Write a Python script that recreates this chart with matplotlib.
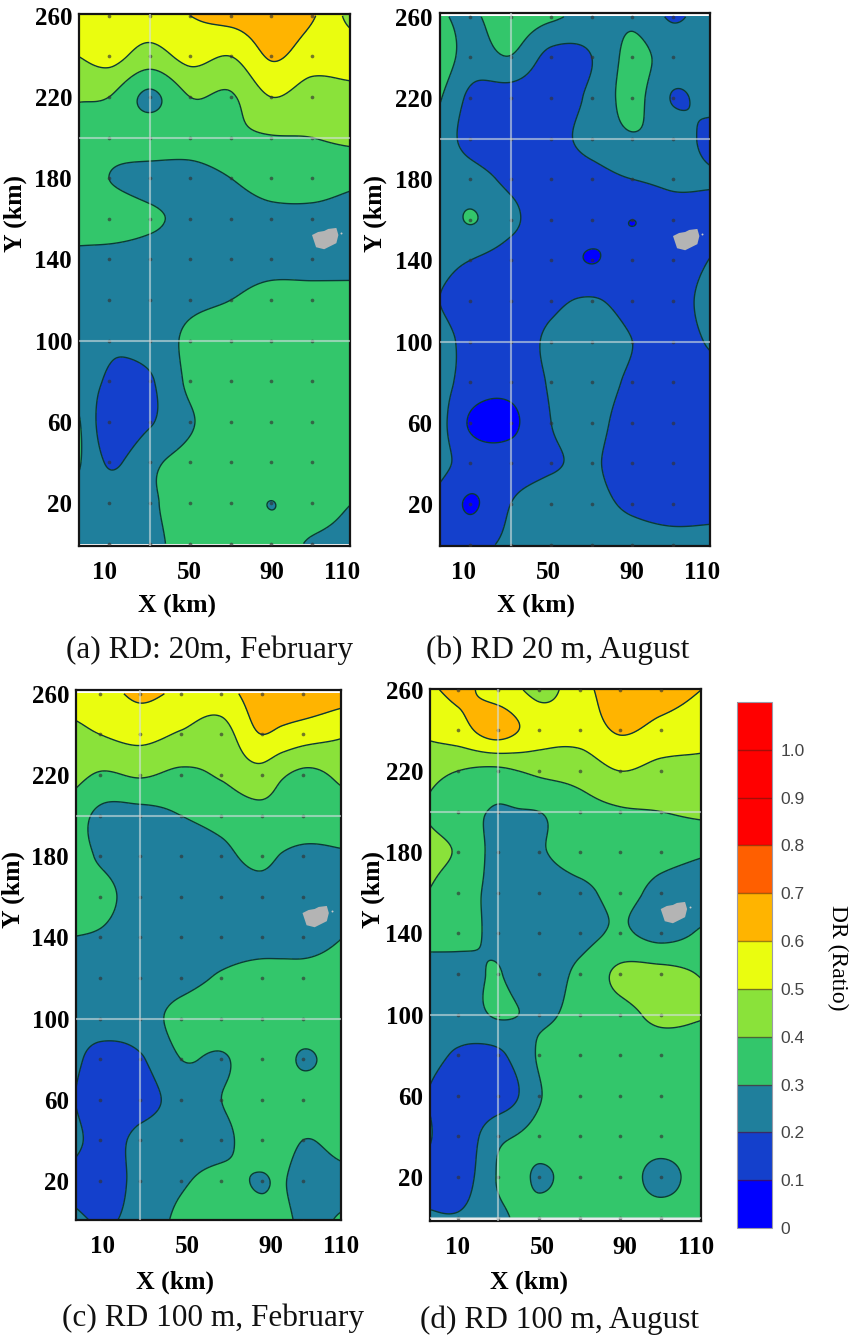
import numpy as np
import matplotlib
matplotlib.use("Agg")
import matplotlib.pyplot as plt
from matplotlib.colors import ListedColormap, BoundaryNorm
from matplotlib.cm import ScalarMappable

W, H = 856, 1337
X_KM = [-5, 10, 30, 50, 70, 90, 110, 130]
X_KM_C = [-5, 10, 30, 50, 70, 90, 100, 110, 130]
X_KM_D = [-5, 10, 30, 40, 50, 70, 90, 110, 130]
Y_KM = [260, 240, 220, 200, 180, 160, 140, 120, 100, 80, 60, 40, 20, 0]
LEVELS = [0, .1, .2, .3, .4, .5, .6, .7, .8, .9, 1.0, 1.1]
COLORS = ['#0000ff', '#1440cc', '#1f7f9c', '#33c66b', '#8ae23a', '#eafd0f',
          '#ffb400', '#ff5f00', '#ff0000', '#ff0000', '#ff0000']
Y_TICKS = [20, 60, 100, 140, 180, 220, 260]
X_TICK_LABELS = ['10', '50', '90', '110']

DR_A = [[.55, .55, .56, .60, .64, .66, .61, .46],
        [.50, .53, .46, .53, .50, .61, .55, .55],
        [.41, .40, .28, .40, .39, .50, .45, .46],
        [.35, .35, .36, .36, .38, .395, .40, .42],
        [.35, .30, .26, .26, .30, .35, .34, .32],
        [.36, .36, .32, .27, .25, .27, .28, .27],
        [.27, .26, .25, .25, .26, .27, .27, .27],
        [.23, .23, .25, .28, .30, .33, .33, .33],
        [.24, .21, .24, .32, .35, .35, .35, .35],
        [.25, .19, .19, .32, .36, .36, .36, .36],
        [.31, .14, .19, .29, .36, .36, .36, .36],
        [.31, .19, .28, .33, .36, .36, .36, .36],
        [.26, .25, .29, .33, .34, .299, .34, .30],
        [.26, .25, .28, .33, .34, .34, .29, .26]]
DR_B = [[.31, .285, .36, .32, .26, .28, .19, .26],
        [.36, .26, .295, .17, .20, .33, .25, .26],
        [.31, .18, .15, .15, .22, .33, .195, .24],
        [.25, .17, .14, .17, .23, .29, .25, .16],
        [.26, .24, .18, .16, .17, .20, .22, .21],
        [.25, .305, .22, .15, .15, .10, .15, .15],
        [.23, .20, .16, .15, .096, .15, .14, .21],
        [.20, .15, .14, .18, .21, .16, .15, .26],
        [.24, .17, .15, .22, .27, .20, .15, .22],
        [.24, .16, .13, .21, .25, .18, .15, .15],
        [.24, .09, .08, .20, .23, .15, .14, .14],
        [.23, .16, .15, .19, .21, .15, .14, .14],
        [.17, .09, .20, .24, .23, .18, .15, .16],
        [.17, .17, .22, .25, .26, .26, .25, .25]]
DR_C = [[.55, .56, .62, .58, .56, .66, .67, .68, .65],
        [.47, .50, .53, .49, .46, .60, .575, .55, .51],
        [.44, .39, .41, .38, .41, .46, .41, .38, .42],
        [.36, .28, .27, .30, .33, .37, .365, .36, .36],
        [.35, .29, .26, .26, .28, .32, .295, .28, .29],
        [.36, .33, .26, .25, .25, .27, .27, .27, .27],
        [.30, .29, .25, .25, .26, .27, .27, .27, .30],
        [.24, .25, .25, .27, .31, .33, .33, .33, .34],
        [.24, .25, .26, .33, .36, .36, .36, .36, .36],
        [.24, .16, .19, .30, .29, .35, .33, .29, .36],
        [.22, .12, .16, .24, .30, .35, .35, .35, .35],
        [.25, .155, .23, .26, .28, .34, .33, .30, .33],
        [.17, .13, .24, .29, .32, .295, .305, .27, .28],
        [.24, .19, .24, .32, .34, .33, .32, .285, .31]]
DR_D = [[.58, .62, .55, .51, .47, .56, .66, .65, .60],
        [.52, .56, .64, .60, .55, .54, .61, .57, .54],
        [.43, .40, .38, .40, .42, .44, .50, .47, .47],
        [.395, .35, .29, .295, .30, .36, .39, .40, .42],
        [.43, .39, .27, .27, .29, .34, .35, .33, .31],
        [.40, .34, .28, .27, .26, .28, .32, .28, .27],
        [.33, .33, .28, .27, .26, .27, .312, .27, .31],
        [.27, .26, .305, .27, .26, .32, .42, .43, .395],
        [.24, .24, .31, .30, .285, .33, .37, .42, .405],
        [.23, .19, .18, .24, .31, .35, .35, .35, .35],
        [.20, .14, .14, .20, .29, .35, .35, .35, .35],
        [.215, .13, .28, .305, .33, .35, .35, .35, .35],
        [.17, .14, .305, .315, .29, .34, .35, .27, .35],
        [.21, .21, .285, .31, .33, .35, .35, .35, .35]]

ISLAND_X = [110, 113, 116, 118, 122, 123, 122, 118, 116, 112, 111]
ISLAND_Y = [152, 153.5, 154, 155, 155.5, 152, 148, 146, 145, 146, 149]

PANELS = [
    dict(z=DR_A, xk=X_KM, box=(79, 349.5, 14, 546), x10=109, y20=503, xt=[8, 49.5, 90, 125],
         xl=(177, 605), yl=(15, 214), cap='(a) RD: 20m, February', capxy=(210, 650), extra=[]),
    dict(z=DR_B, xk=X_KM, box=(439.5, 710, 13, 546), x10=470, y20=504, xt=[7, 48.5, 89.5, 124.5],
         xl=(536, 605), yl=(375, 214), cap='(b) RD 20 m, August', capxy=(558, 650), extra=[]),
    dict(z=DR_C, xk=X_KM_C, box=(76, 341, 690, 1220), x10=100, y20=1181, xt=[11.5, 53, 94.5, 129],
         xl=(175, 1282), yl=(13, 890), cap='(c) RD 100 m, February', capxy=(213, 1318), extra=[]),
    dict(z=DR_D, xk=X_KM_D, box=(430, 700.7, 689, 1220.5), x10=457.7, y20=1177, xt=[10, 51.5, 92.5, 127.5],
         xl=(529, 1282), yl=(373, 890), cap='(d) RD 100 m, August', capxy=(559, 1320), extra=[0]),
]

SERIF = 'Liberation Serif'
PX_KM_X = 2.03
PX_KM_Y = 2.03


def hermite_axis(z, coords, fine, axis):
    # smooth resampling between the read values so the contours are rounded
    z = np.moveaxis(z, axis, 0)
    slope = np.gradient(z, coords, axis=0)
    idx = np.clip(np.searchsorted(coords, fine) - 1, 0, len(coords) - 2)
    h = np.array(coords)[idx + 1] - np.array(coords)[idx]
    t = (fine - np.array(coords)[idx]) / h
    sh = (-1,) + (1,) * (z.ndim - 1)
    t = t.reshape(sh)
    h = h.reshape(sh)
    out = ((2 * t**3 - 3 * t**2 + 1) * z[idx] + (t**3 - 2 * t**2 + t) * h * slope[idx]
           + (-2 * t**3 + 3 * t**2) * z[idx + 1] + (t**3 - t**2) * h * slope[idx + 1])
    return np.moveaxis(out, 0, axis)


def smooth(z, xk):
    ys = np.array(Y_KM[::-1], float)
    xs = np.array(xk, float)
    arr = np.array(z, float)[::-1]
    fx = np.linspace(xs[0], xs[-1], 271)
    fy = np.linspace(ys[0], ys[-1], 521)
    arr = hermite_axis(arr, xs, fx, 1)
    arr = hermite_axis(arr, ys, fy, 0)
    return fx, fy, arr


def px(x, y):
    return x / W, 1 - y / H


fig = plt.figure(figsize=(W / 100, H / 100), dpi=100, facecolor='white')
cmap = ListedColormap(COLORS)
norm = BoundaryNorm(LEVELS, cmap.N)

for p in PANELS:
    l, r, t, b = p['box']
    ax = fig.add_axes([l / W, 1 - b / H, (r - l) / W, (b - t) / H])
    fx, fy, fz = smooth(p['z'], p['xk'])
    ax.contourf(fx, fy, fz, levels=LEVELS, cmap=cmap, norm=norm, extend='neither')
    ax.contour(fx, fy, fz, levels=LEVELS, colors='#0b3a36', linewidths=1.0)
    ax.set_xlim(10 + (l - p['x10']) / PX_KM_X, 10 + (r - p['x10']) / PX_KM_X)
    ax.set_ylim(20 + (p['y20'] - b) / PX_KM_Y, 20 + (p['y20'] - t) / PX_KM_Y)
    gx, gy = np.meshgrid(X_KM[1:-1], Y_KM)
    ax.scatter(gx.ravel(), gy.ravel(), s=7, c='#333333', alpha=.65, linewidths=0, zorder=3)
    line = dict(color='#d5dfe0', alpha=.6, lw=1.5, zorder=4)
    ax.axvline(30, **line)
    for yy in [200, 100] + p['extra']:
        ax.axhline(yy, **line)
    ax.fill(ISLAND_X, ISLAND_Y, color='#b4b4b4', lw=0, zorder=5)
    ax.scatter([124.5], [153], s=2, c='#c8c8c8', linewidths=0, zorder=5)
    ax.set_xticks(p['xt'], X_TICK_LABELS)
    ax.set_yticks(Y_TICKS, [str(v) for v in Y_TICKS])
    ax.tick_params(length=0, labelsize=18, pad=5)
    ax.tick_params(axis='x', pad=11)
    for lab in ax.get_xticklabels() + ax.get_yticklabels():
        lab.set_family(SERIF)
        lab.set_weight('bold')
    for s in ax.spines.values():
        s.set_linewidth(1.6)
        s.set_color('#151515')
    fig.text(*px(*p['xl']), 'X (km)', family=SERIF, weight='bold', size=18.5, ha='center', va='center')
    fig.text(*px(*p['yl']), 'Y (km)', family=SERIF, weight='bold', size=18.5, ha='center', va='center', rotation=90)
    fig.text(*px(*p['capxy']), p['cap'], family=SERIF, size=22.5, ha='center', va='center', color='#111111')

cax = fig.add_axes([737 / W, 1 - 1228 / H, 35 / W, 526 / H])
cb = fig.colorbar(ScalarMappable(norm=norm, cmap=cmap), cax=cax, ticks=LEVELS[:-1], spacing='proportional')
cb.ax.set_yticklabels(['0'] + [f'{v:.1f}' for v in LEVELS[1:-1]])
cb.ax.minorticks_off()
cb.ax.tick_params(which='both', length=0, labelsize=12.5, labelcolor='#444444', pad=6)
for lab in cb.ax.get_yticklabels():
    lab.set_family('Liberation Sans')
cb.outline.set_edgecolor('#9a9aa8')
cb.outline.set_linewidth(.8)
for v in LEVELS[1:-1]:
    cb.ax.axhline(v, color='#5a1a10', alpha=.55, lw=1)
fig.text(*px(838, 958), 'DR (Ratio)', family=SERIF, size=17, ha='center', va='center', rotation=270)

fig.savefig('out.png', dpi=100, facecolor='white')
